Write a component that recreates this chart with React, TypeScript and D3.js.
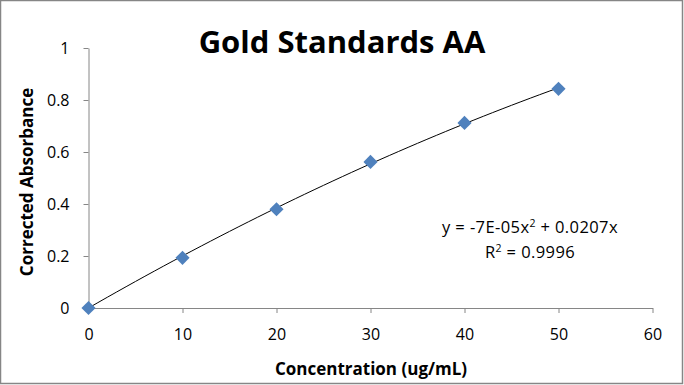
import React, { useEffect, useRef } from 'react';
import * as d3 from 'd3';

const concentrations = [0, 10, 20, 30, 40, 50];
const absorbances = [0, 0.193, 0.38, 0.562, 0.712, 0.843];
const xTicks = [0, 10, 20, 30, 40, 50, 60];
const yTicks = [0, 0.2, 0.4, 0.6, 0.8, 1];
const equationText = ['y = -7E-05x', '2', ' + 0.0207x'];
const rSquaredText = ['R', '2', ' = 0.9996'];

function GoldChart() {
  const svgRef = useRef<SVGSVGElement>(null);

  useEffect(() => {
    const width = 684;
    const height = 385;
    const margin = { top: 48, right: 31, bottom: 77, left: 88.5 };

    const svg = d3.select(svgRef.current);
    svg.selectAll('*').remove();
    svg.attr('width', width).attr('height', height);

    // outer chart border
    svg.append('rect')
      .attr('x', 0.5).attr('y', 0.5)
      .attr('width', width - 2).attr('height', height - 2)
      .attr('fill', 'white')
      .attr('stroke', '#868686')
      .attr('stroke-width', 1.5);

    const xScale = d3.scaleLinear().domain([0, 60]).range([margin.left, 652.5]);
    const yScale = d3.scaleLinear().domain([0, 1]).range([308, margin.top]);

    const font = '"Open Sans", Lato, sans-serif';

    // x axis
    const xAxis = svg.append('g')
      .attr('transform', `translate(0,${yScale(0)})`)
      .call(d3.axisBottom(xScale).tickValues(xTicks).tickSize(5).tickSizeOuter(0).tickPadding(16).tickFormat(d3.format('d')));
    xAxis.select('.domain').attr('stroke', '#868686');
    xAxis.selectAll('line').attr('stroke', '#868686');
    xAxis.selectAll('text').attr('font-family', font).attr('font-size', 16).attr('fill', '#000');

    // y axis
    const yAxis = svg.append('g')
      .attr('transform', `translate(${xScale(0)},0)`)
      .call(d3.axisLeft(yScale).tickValues(yTicks).tickSize(5).tickSizeOuter(0).tickPadding(14).tickFormat((d) => String(+d)));
    yAxis.select('.domain').attr('stroke', '#868686');
    yAxis.selectAll('line').attr('stroke', '#868686');
    yAxis.selectAll('text').attr('font-family', font).attr('font-size', 16).attr('fill', '#000');

    // polynomial trendline through origin (least squares, like Excel)
    let s4 = 0, s3 = 0, s2 = 0, sx2y = 0, sxy = 0;
    concentrations.forEach((x, i) => {
      const y = absorbances[i];
      s4 += x ** 4; s3 += x ** 3; s2 += x ** 2;
      sx2y += x * x * y; sxy += x * y;
    });
    const det = s4 * s2 - s3 * s3;
    const a = (sx2y * s2 - s3 * sxy) / det;
    const b = (s4 * sxy - s3 * sx2y) / det;
    const trend = d3.range(0, 50.01, 1).map((x) => [x, a * x * x + b * x]);

    const line = d3.line<number[]>()
      .x((d) => xScale(d[0]))
      .y((d) => yScale(d[1]));

    svg.append('path')
      .datum(trend)
      .attr('fill', 'none')
      .attr('stroke', '#000')
      .attr('stroke-width', 1)
      .attr('d', line);

    // markers
    const diamond = d3.symbol().type(d3.symbolSquare).size(100);
    svg.append('g')
      .selectAll('path')
      .data(concentrations)
      .join('path')
      .attr('d', diamond)
      .attr('transform', (d, i) => `translate(${xScale(d)},${yScale(absorbances[i])}) rotate(45)`)
      .attr('fill', '#4F81BD');

    // title
    svg.append('text')
      .attr('x', 342).attr('y', 53)
      .attr('text-anchor', 'middle')
      .attr('font-family', font)
      .attr('font-weight', 'bold')
      .attr('font-size', 31)
      .text('Gold Standards AA');

    // axis titles
    svg.append('text')
      .attr('x', 371).attr('y', 375)
      .attr('text-anchor', 'middle')
      .attr('font-family', font)
      .attr('font-weight', 'bold')
      .attr('font-size', 17)
      .text('Concentration (ug/mL)');

    svg.append('text')
      .attr('transform', 'translate(33,182) rotate(-90)')
      .attr('text-anchor', 'middle')
      .attr('font-family', font)
      .attr('font-weight', 'bold')
      .attr('font-size', 17)
      .text('Corrected Absorbance');

    // trendline label
    const label = (parts: string[], y: number) => {
      const t = svg.append('text')
        .attr('x', 530).attr('y', y)
        .attr('text-anchor', 'middle')
        .attr('font-family', font)
        .attr('font-size', 16.5)
        .attr('letter-spacing', 0.4);
      t.append('tspan').text(parts[0]);
      t.append('tspan').attr('dy', -6).attr('font-size', 10.5).text(parts[1]);
      t.append('tspan').attr('dy', 6).text(parts[2]);
    };
    label(equationText, 233);
    label(rSquaredText, 258);
  }, []);

  return <svg ref={svgRef} style={{ position: 'absolute', left: 0, top: 0 }}></svg>;
}

export default function App() {
  return <GoldChart />;
}
